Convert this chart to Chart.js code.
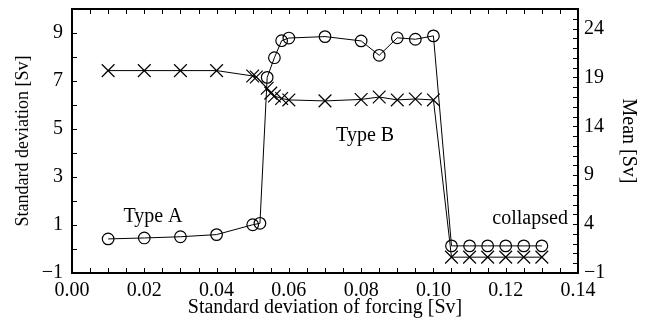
<!DOCTYPE html>
<html>
<head>
<meta charset="utf-8">
<script src="https://cdn.jsdelivr.net/npm/chart.js@4/dist/chart.umd.min.js"></script>
<style>
  html, body { margin: 0; padding: 0; background: #fff; }
  #wrap { width: 645px; height: 324px; }
</style>
</head>
<body>
<div id="wrap"><canvas id="c" width="645" height="324"></canvas></div>
<script>
// Standard deviation (circles, left axis)
const stdX = [0.01,0.02,0.03,0.04,0.05,0.052,0.054,0.056,0.058,0.06,0.07,0.08,0.085,0.09,0.095,0.10,0.105,0.11,0.115,0.12,0.125,0.13];
const stdY = [0.42,0.46,0.51,0.60,1.01,1.07,7.15,7.97,8.68,8.79,8.85,8.67,8.07,8.80,8.74,8.88,0.13,0.13,0.13,0.13,0.13,0.13];
// Mean (crosses, right axis)
const meanX = [0.01,0.02,0.03,0.04,0.05,0.051,0.054,0.055,0.056,0.058,0.06,0.07,0.08,0.085,0.09,0.095,0.10,0.105,0.11,0.115,0.12,0.125,0.13];
const meanY = [19.7,19.7,19.7,19.7,19.15,19.05,17.9,17.4,17.1,16.85,16.7,16.6,16.75,17.0,16.7,16.8,16.7,0.62,0.62,0.62,0.62,0.62,0.62];
// Tick settings
const xTickLabels = [0.00,0.02,0.04,0.06,0.08,0.10,0.12,0.14];
const yLeftLabels = [-1,1,3,5,7,9];
const yRightLabels = [-1,4,9,14,19,24];
// Annotations (data coordinates on x / left axis)
const notes = [
  { text: 'Type A', x: 0.0224, y: 1.34, align: 'center' },
  { text: 'Type B', x: 0.0811, y: 4.72, align: 'center' },
  { text: 'collapsed', x: 0.1372, y: 1.25, align: 'right' }
];

const FONT = '"Liberation Serif", "Times New Roman", serif';
const FS = 20;

const toPts = (xs, ys) => xs.map((x, i) => ({ x: x, y: ys[i] }));
const near = (v, arr) => arr.some(a => Math.abs(a - v) < 1e-6);

const frameTicks = {
  id: 'frameTicks',
  afterDraw(chart) {
    const { ctx, chartArea: a, scales } = chart;
    const L = 5;
    ctx.save();
    ctx.strokeStyle = '#000';
    ctx.lineWidth = 1;
    ctx.beginPath();
    scales.x.ticks.forEach(t => {
      const p = Math.round(scales.x.getPixelForValue(t.value)) + 0.5;
      ctx.moveTo(p, a.bottom); ctx.lineTo(p, a.bottom - L);
      ctx.moveTo(p, a.top); ctx.lineTo(p, a.top + L);
    });
    scales.y.ticks.forEach(t => {
      const p = Math.round(scales.y.getPixelForValue(t.value)) + 0.5;
      ctx.moveTo(a.left, p); ctx.lineTo(a.left + L, p);
    });
    scales.y1.ticks.forEach(t => {
      const p = Math.round(scales.y1.getPixelForValue(t.value)) + 0.5;
      ctx.moveTo(a.right, p); ctx.lineTo(a.right - L, p);
    });
    ctx.stroke();
    ctx.lineWidth = 2;
    ctx.strokeRect(a.left, a.top, a.right - a.left, a.bottom - a.top);
    // annotations
    ctx.fillStyle = '#000';
    ctx.font = FS + 'px ' + FONT;
    ctx.textBaseline = 'middle';
    notes.forEach(n => {
      ctx.textAlign = n.align;
      ctx.fillText(n.text, scales.x.getPixelForValue(n.x), scales.y.getPixelForValue(n.y));
    });
    ctx.restore();
  }
};

function fitV(w) {
  return function (s) { s.width = w; s.paddingTop = 0; s.paddingBottom = 0; };
}

new Chart(document.getElementById('c'), {
  type: 'scatter',
  data: {
    datasets: [
      {
        label: 'Standard deviation',
        data: toPts(stdX, stdY),
        yAxisID: 'y',
        showLine: true,
        borderColor: '#000',
        borderWidth: 1,
        backgroundColor: 'rgba(0,0,0,0)',
        pointStyle: 'circle',
        pointRadius: 5.8,
        pointBorderWidth: 1.2,
        pointBorderColor: '#000',
        pointBackgroundColor: 'rgba(0,0,0,0)'
      },
      {
        label: 'Mean',
        data: toPts(meanX, meanY),
        yAxisID: 'y1',
        showLine: true,
        borderColor: '#000',
        borderWidth: 1,
        pointStyle: 'crossRot',
        pointRadius: 9,
        pointBorderWidth: 1.2,
        pointBorderColor: '#000'
      }
    ]
  },
  options: {
    responsive: false,
    animation: false,
    devicePixelRatio: 1,
    layout: { padding: { top: 9, left: 0, right: 0, bottom: 0 }, autoPadding: false },
    plugins: { legend: { display: false }, tooltip: { enabled: false } },
    scales: {
      x: {
        type: 'linear', position: 'bottom', min: 0, max: 0.14,
        afterFit(s) { s.height = 51; s.paddingLeft = 0; s.paddingRight = 0; },
        grid: { display: false, drawTicks: false },
        border: { display: false },
        ticks: {
          stepSize: 0.005, autoSkip: false, maxRotation: 0, padding: 6,
          color: '#000', font: { family: FONT, size: FS },
          callback: v => near(v, xTickLabels) ? v.toFixed(2) : ''
        },
        title: { display: true, text: 'Standard deviation of forcing [Sv]', color: '#000',
                 font: { family: FONT, size: FS }, padding: { top: 0, bottom: 4 } }
      },
      y: {
        type: 'linear', position: 'left', min: -1, max: 10,
        afterFit: fitV(72),
        grid: { display: false, drawTicks: false },
        border: { display: false },
        ticks: {
          stepSize: 1, autoSkip: false, padding: 9,
          color: '#000', font: { family: FONT, size: FS },
          callback: v => near(v, yLeftLabels) ? (v < 0 ? '\u2212' + Math.abs(v) : String(v)) : ''
        },
        title: { display: true, text: 'Standard deviation [Sv]', color: '#000',
                 font: { family: FONT, size: 18 }, padding: { top: 12, bottom: 0 } }
      },
      y1: {
        type: 'linear', position: 'right', min: -1, max: 26,
        afterFit: fitV(67),
        grid: { display: false, drawTicks: false },
        border: { display: false },
        ticks: {
          stepSize: 1, autoSkip: false, padding: 6,
          color: '#000', font: { family: FONT, size: FS },
          callback: v => near(v, yRightLabels) ? (v < 0 ? '\u2212' + Math.abs(v) : String(v)) : ''
        },
        title: { display: true, text: 'Mean [Sv]', color: '#000',
                 font: { family: FONT, size: FS }, padding: { top: 5, bottom: 0 } }
      }
    }
  },
  plugins: [frameTicks]
});
</script>
</body>
</html>
